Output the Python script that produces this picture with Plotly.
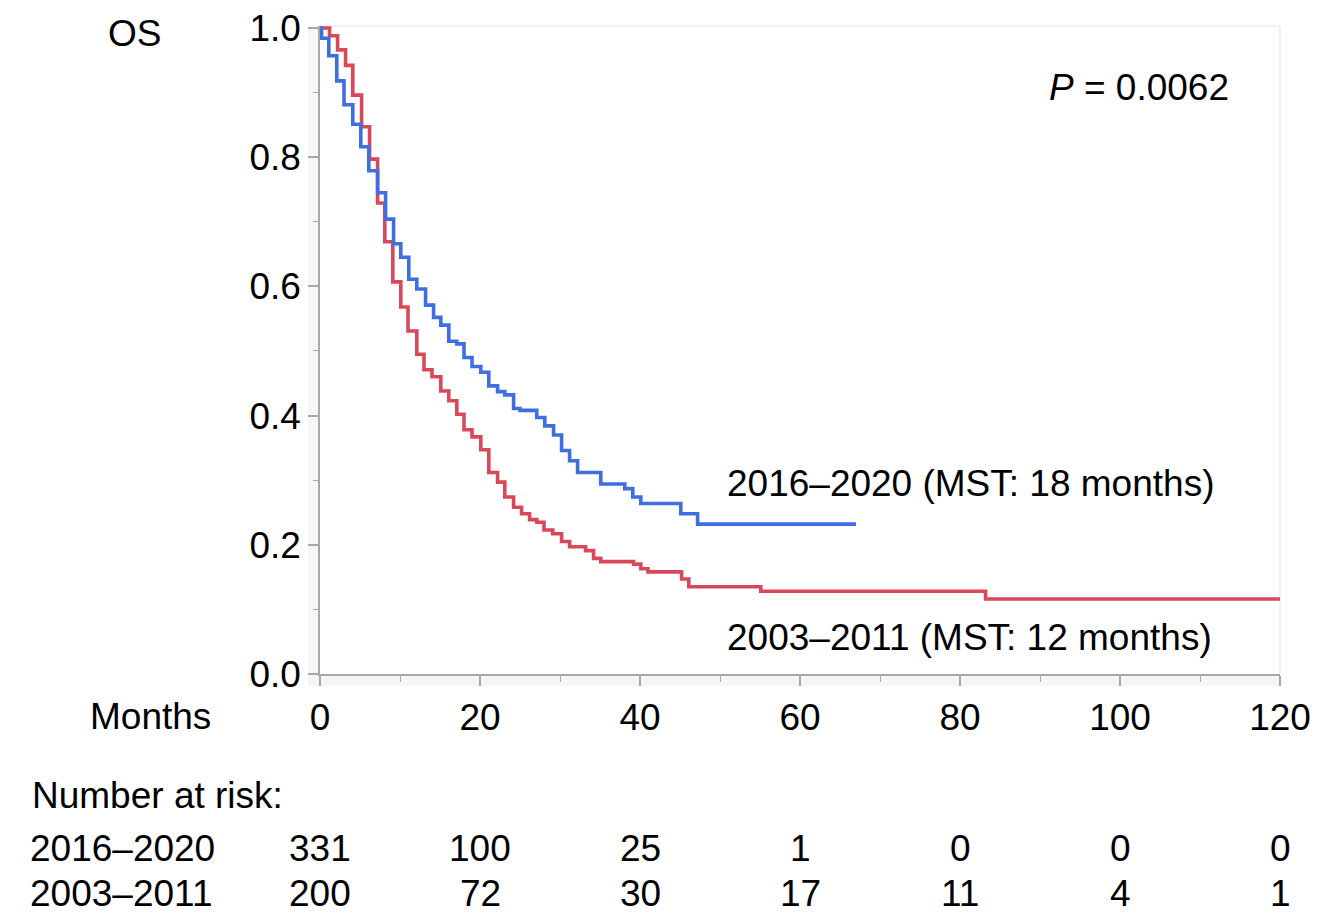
import plotly.graph_objects as go

# ---- data ----
blue_label = "2016–2020 (MST: 18 months)"
red_label = "2003–2011 (MST: 12 months)"

blue_t = [0, 0.2, 1.1, 2.1, 3.0, 4.1, 5.1, 6.1, 7.2, 8.2, 9.2, 10.1, 11.1, 12.1, 13.2,
          14.2, 15.1, 16.1, 17.1, 18.0, 19.0, 20.1, 21.1, 22.2, 23.1, 24.2, 25.0, 27.1,
          28.1, 29.2, 30.2, 31.2, 32.2, 35.1, 38.1, 39.1, 40.1, 45.1, 47.2, 67.0]
blue_s = [1.0, 0.984, 0.957, 0.918, 0.881, 0.851, 0.816, 0.779, 0.745, 0.704, 0.666,
          0.645, 0.611, 0.596, 0.571, 0.552, 0.540, 0.515, 0.511, 0.490, 0.476, 0.467,
          0.446, 0.437, 0.432, 0.411, 0.408, 0.397, 0.384, 0.370, 0.346, 0.330, 0.312,
          0.294, 0.287, 0.274, 0.264, 0.248, 0.232, 0.232]

red_t = [0, 1.2, 2.2, 3.2, 4.1, 5.2, 6.2, 7.2, 8.1, 9.1, 10.1, 11.0, 12.1, 13.0, 14.0,
         15.1, 16.1, 17.1, 18.0, 19.0, 20.1, 21.1, 22.2, 23.1, 24.2, 25.2, 26.2, 27.1,
         28.0, 29.1, 30.2, 31.2, 33.2, 34.2, 35.1, 39.2, 40.1, 41.0, 45.2, 46.1, 55.1,
         83.2, 120.0]
red_s = [1.0, 0.988, 0.966, 0.942, 0.896, 0.847, 0.797, 0.729, 0.669, 0.607, 0.568,
         0.531, 0.495, 0.471, 0.460, 0.438, 0.423, 0.402, 0.378, 0.367, 0.347, 0.312,
         0.297, 0.274, 0.258, 0.248, 0.239, 0.235, 0.223, 0.217, 0.205, 0.197, 0.191,
         0.179, 0.174, 0.170, 0.163, 0.158, 0.147, 0.135, 0.128, 0.116, 0.116]

risk_months = [0, 20, 40, 60, 80, 100, 120]
risk_groups = ["2016–2020", "2003–2011"]
risk_blue = [331, 100, 25, 1, 0, 0, 0]
risk_red = [200, 72, 30, 17, 11, 4, 1]

BLUE = "#3F6FDF"
RED = "#D9475A"
FONT = "Liberation Sans, Arial, sans-serif"
FS = 37

OFF = 8  # page body margin
W, H = 1344 - OFF, 920 - OFF
ML, MR, MT, MB = 320 - OFF, 64, 26 - OFF, 246
PW, PH = W - ML - MR, H - MT - MB

fig = go.Figure()
fig.add_trace(go.Scatter(x=red_t, y=red_s, mode="lines", line=dict(shape="hv", color=RED, width=3.6),
                         name="2003–2011", showlegend=False, cliponaxis=False))
fig.add_trace(go.Scatter(x=blue_t, y=blue_s, mode="lines", line=dict(shape="hv", color=BLUE, width=3.6),
                         name="2016–2020", showlegend=False, cliponaxis=False))

axis_col = "#a8a8a8"
fig.update_xaxes(range=[0, 120], tickvals=risk_months, ticks="outside", ticklen=10, tickwidth=1.5,
                 tickcolor=axis_col, showline=True, linecolor=axis_col, linewidth=1.5,
                 showgrid=False, zeroline=False, tickfont=dict(size=FS, color="black", family=FONT),
                 minor=dict(dtick=10, ticks="outside", ticklen=6, tickcolor=axis_col, tickwidth=1),
                 ticklabelstandoff=0, ticklabeloverflow="allow")
fig.update_yaxes(range=[0, 1.003], tickvals=[0, 0.2, 0.4, 0.6, 0.8, 1.0], tickformat=".1f",
                 ticks="outside", ticklen=10, tickwidth=1.5, tickcolor=axis_col, showline=True,
                 linecolor=axis_col, linewidth=1.5, showgrid=False, zeroline=False,
                 tickfont=dict(size=FS, color="black", family=FONT),
                 minor=dict(dtick=0.1, ticks="outside", ticklen=5, tickcolor=axis_col, tickwidth=1),
                 ticklabelstandoff=0, ticklabeloverflow="allow")

band = 12
shapes = [
    dict(type="rect", xref="paper", yref="paper", x0=-band / PW, x1=0, y0=-band / PH, y1=1,
         fillcolor="#f6f6f6", line=dict(width=0), layer="below"),
    dict(type="rect", xref="paper", yref="paper", x0=-band / PW, x1=1, y0=-band / PH, y1=0,
         fillcolor="#f6f6f6", line=dict(width=0), layer="below"),
    dict(type="line", xref="paper", yref="paper", x0=0, x1=1, y0=1, y1=1,
         line=dict(color="#ececec", width=1.5), layer="below"),
    dict(type="line", xref="paper", yref="paper", x0=1, x1=1, y0=0, y1=1,
         line=dict(color="#ececec", width=1.5), layer="below"),
]

def py(v):
    # page pixel y -> paper coordinate
    return (H - MB - (v - OFF)) / PH

def px(v):
    return (v - OFF - ML) / PW

ann = []
def text(t, x, y, anchor="left", size=FS):
    ann.append(dict(text=t, xref="paper", yref="paper", x=px(x), y=py(y), xanchor=anchor,
                    yanchor="middle", showarrow=False, font=dict(size=size, color="black", family=FONT)))

text("OS", 134, 33, "center")
text("Months", 213, 716, "right")
text("<i>P</i> = 0.0062", 1231, 88, "right")
text(blue_label, 725, 483, "left")
text(red_label, 725, 637, "left")
text("Number at risk:", 30, 795, "left")
text(risk_groups[0], 28, 848, "left")
text(risk_groups[1], 28, 893, "left")

for m, b, r in zip(risk_months, risk_blue, risk_red):
    for val, yy in ((b, 848), (r, 893)):
        ann.append(dict(text=str(val), xref="x", yref="paper", x=m, y=py(yy), xanchor="center",
                        yanchor="middle", showarrow=False,
                        font=dict(size=FS, color="black", family=FONT)))

fig.update_layout(width=W, height=H, margin=dict(l=ML, r=MR, t=MT, b=MB, autoexpand=False),
                  plot_bgcolor="white", paper_bgcolor="white", shapes=shapes, annotations=ann,
                  font=dict(family=FONT, size=FS, color="black"), showlegend=False)

fig.write_html("out.html")
